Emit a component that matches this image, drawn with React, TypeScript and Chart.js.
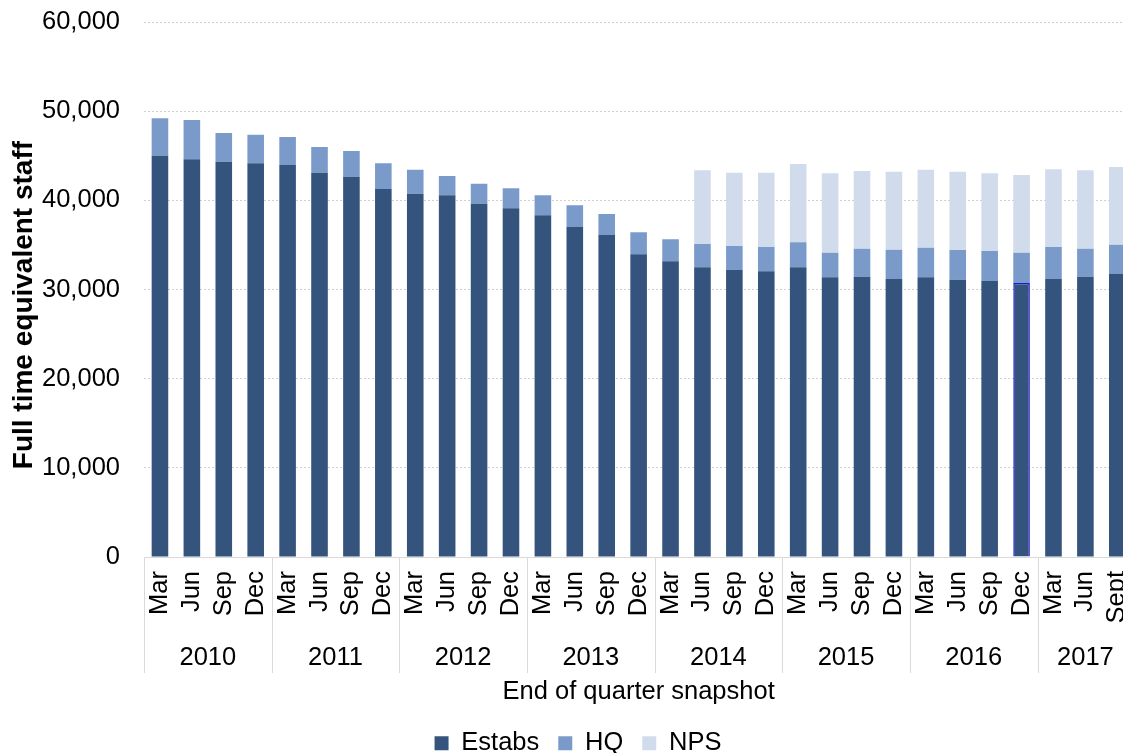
import React, { useEffect, useRef } from "react";
import { Chart, registerables } from "chart.js";

Chart.register(...registerables);

const quarterLabels = [
  "Mar", "Jun", "Sep", "Dec",
  "Mar", "Jun", "Sep", "Dec",
  "Mar", "Jun", "Sep", "Dec",
  "Mar", "Jun", "Sep", "Dec",
  "Mar", "Jun", "Sep", "Dec",
  "Mar", "Jun", "Sep", "Dec",
  "Mar", "Jun", "Sep", "Dec",
  "Mar", "Jun", "Sept",
];

const yearLabels = ["2010", "2011", "2012", "2013", "2014", "2015", "2016", "2017"];
const quartersPerYear = [4, 4, 4, 4, 4, 4, 4, 3];

const estabs = [
  45010, 44600, 44340, 44150, 43960, 43100, 42650, 41270, 40750, 40560, 39620,
  39110, 38320, 37010, 36110, 33950, 33160, 32490, 32220, 32040, 32490, 31370,
  31440, 31180, 31370, 31100, 30950, 30730, 31180, 31440, 31740,
];

const hq = [
  4190, 4410, 3210, 3210, 3140, 2880, 2880, 2880, 2690, 2170, 2250, 2240, 2240,
  2430, 2360, 2460, 2470, 2610, 2660, 2730, 2800, 2760, 3140, 3280, 3320, 3330,
  3370, 3400, 3590, 3140, 3290,
];

const nps = [
  null, null, null, null, null, null, null, null, null, null, null, null, null,
  null, null, null, null, 8270, 8220, 8330, 8780, 8900, 8710, 8750, 8750, 8780,
  8710, 8710, 8710, 8790, 8710,
];

const yTicks = [0, 10000, 20000, 30000, 40000, 50000, 60000];

const FONT = "'Liberation Sans', Arial, sans-serif";
const FS = 25.5;
const highlightIndex = 27;

const yearGroupPlugin = {
  id: "yearGroups",
  afterDraw(chart: any) {
    const ctx = chart.ctx;
    const xs = chart.scales.x;
    const half = (xs.getPixelForValue(1) - xs.getPixelForValue(0)) / 2;
    const top = chart.chartArea.bottom;
    const lineBottom = top + 116;
    ctx.save();
    ctx.strokeStyle = "#d9d9d9";
    ctx.lineWidth = 1;
    ctx.fillStyle = "#000";
    ctx.font = FS + "px " + FONT;
    ctx.textAlign = "center";
    ctx.textBaseline = "middle";
    let start = 0;
    yearLabels.forEach((yr, gi) => {
      const n = quartersPerYear[gi];
      const left = xs.getPixelForValue(start) - half;
      const right = xs.getPixelForValue(start + n - 1) + half;
      const lx = Math.round(left) + 0.5;
      ctx.beginPath();
      ctx.moveTo(lx, top);
      ctx.lineTo(lx, lineBottom);
      ctx.stroke();
      ctx.fillText(yr, (left + right) / 2, top + 101);
      start += n;
    });
    ctx.restore();
  },
};

export default function App() {
  const ref = useRef<HTMLCanvasElement | null>(null);

  useEffect(() => {
    if (!ref.current) return;
    const chart = new Chart(ref.current, {
      type: "bar",
      data: {
        labels: quarterLabels,
        datasets: [
          {
            label: "Estabs",
            data: estabs,
            backgroundColor: "#34547d",
            borderColor: (c: any) => (c.dataIndex === highlightIndex ? "#1a1ad0" : "#34547d"),
            borderWidth: (c: any) => (c.dataIndex === highlightIndex ? 1.5 : 0),
            barPercentage: 0.52,
            categoryPercentage: 1,
          },
          {
            label: "HQ",
            data: hq,
            backgroundColor: "#7a9bca",
            borderWidth: 0,
            barPercentage: 0.52,
            categoryPercentage: 1,
          },
          {
            label: "NPS",
            data: nps as any,
            backgroundColor: "#d0dceb",
            borderWidth: 0,
            barPercentage: 0.52,
            categoryPercentage: 1,
          },
        ],
      },
      options: {
        responsive: false,
        animation: false,
        layout: { padding: { top: 22, left: 0, right: 6, bottom: 0 } },
        plugins: {
          tooltip: { enabled: false },
          legend: {
            position: "bottom",
            labels: {
              boxWidth: 14,
              boxHeight: 14,
              padding: 19,
              color: "#000",
              font: { size: FS, family: FONT },
            },
          },
        },
        scales: {
          x: {
            stacked: true,
            grid: { display: false, drawTicks: false },
            border: { display: true, color: "#d9d9d9", width: 1 },
            ticks: {
              color: "#000",
              font: { size: FS, family: FONT },
              minRotation: 90,
              maxRotation: 90,
              autoSkip: false,
              padding: 14,
            },
            title: {
              display: true,
              text: "End of quarter snapshot",
              color: "#000",
              font: { size: FS, family: FONT },
              padding: { top: 0, bottom: 4 },
            },
            afterFit: (s: any) => {
              s.height = 154.5;
            },
          },
          y: {
            stacked: true,
            min: 0,
            max: 60000,
            afterBuildTicks: (s: any) => {
              s.ticks = yTicks.map((v) => ({ value: v }));
            },
            grid: { color: "#d0d0d0", lineWidth: 1, drawTicks: false },
            border: { display: false, dash: [2, 2] },
            ticks: {
              color: "#000",
              font: { size: FS, family: FONT },
              padding: 24,
              callback: (v: any) => Number(v).toLocaleString("en-US"),
            },
            title: {
              display: true,
              text: "Full time equivalent staff    ",
              color: "#000",
              font: { size: 28, weight: "bold", family: FONT },
              padding: { top: 7, bottom: 0 },
            },
            afterFit: (s: any) => {
              s.width = 144;
              s.paddingTop = 0;
              s.paddingBottom = 0;
            },
          },
        },
      },
      plugins: [yearGroupPlugin],
    });
    return () => chart.destroy();
  }, []);

  return (
    <div
      style={{
        position: "fixed",
        left: 0,
        top: 0,
        width: 1123,
        height: 753,
        overflow: "hidden",
        background: "#fff",
      }}
    >
      <canvas ref={ref} width={1162} height={766} style={{ display: "block" }} />
    </div>
  );
}
